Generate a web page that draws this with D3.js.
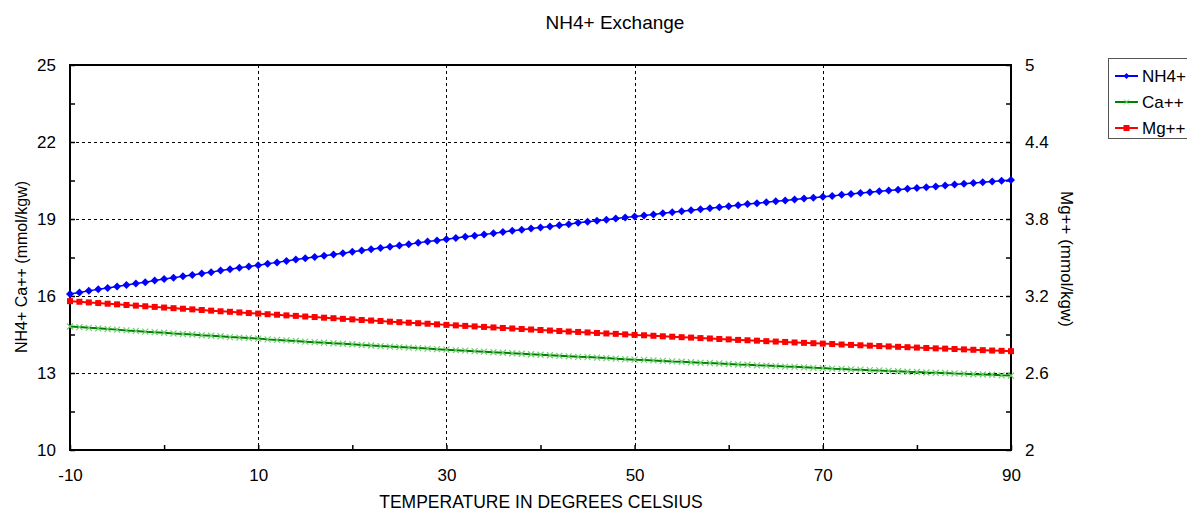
<!DOCTYPE html>
<html>
<head>
<meta charset="utf-8">
<script src="https://d3js.org/d3.v7.min.js"></script>
<style>
  body { margin: 0; background: #fff; }
  text { font-family: Arial, "Liberation Sans", sans-serif; }
</style>
</head>
<body>
<div id="chart"></div>
<script>

// temperatures (deg C) and the three series
var temps = [-10,-9,-8,-7,-6,-5,-4,-3,-2,-1,0,1,2,3,4,5,6,7,8,9,10,11,12,13,14,15,16,17,18,19,
  20,21,22,23,24,25,26,27,28,29,30,31,32,33,34,35,36,37,38,39,40,41,42,43,44,45,46,47,48,49,
  50,51,52,53,54,55,56,57,58,59,60,61,62,63,64,65,66,67,68,69,70,71,72,73,74,75,76,77,78,79,
  80,81,82,83,84,85,86,87,88,89,90];

var nh4 = [16.08,16.14,16.20,16.26,16.31,16.37,16.43,16.49,16.54,16.60,16.66,16.71,16.77,16.82,16.88,
  16.93,16.99,17.04,17.10,17.15,17.20,17.26,17.31,17.36,17.42,17.47,17.52,17.57,17.62,17.67,
  17.72,17.77,17.82,17.87,17.92,17.97,18.02,18.07,18.12,18.16,18.21,18.26,18.31,18.35,18.40,
  18.44,18.49,18.54,18.58,18.63,18.67,18.71,18.76,18.80,18.85,18.89,18.93,18.97,19.02,19.06,
  19.10,19.14,19.18,19.22,19.26,19.30,19.34,19.38,19.42,19.46,19.50,19.54,19.58,19.61,19.65,
  19.69,19.72,19.76,19.80,19.83,19.87,19.90,19.94,19.97,20.01,20.04,20.08,20.11,20.14,20.18,
  20.21,20.24,20.27,20.31,20.34,20.37,20.40,20.43,20.46,20.49,20.52];

var ca = [14.81,14.79,14.76,14.74,14.71,14.69,14.66,14.64,14.61,14.59,14.57,14.54,14.52,14.50,14.47,
  14.45,14.43,14.40,14.38,14.36,14.34,14.31,14.29,14.27,14.25,14.22,14.20,14.18,14.16,14.14,
  14.12,14.09,14.07,14.05,14.03,14.01,13.99,13.97,13.95,13.93,13.91,13.89,13.87,13.85,13.83,
  13.81,13.79,13.77,13.75,13.73,13.71,13.69,13.67,13.65,13.63,13.62,13.60,13.58,13.56,13.54,
  13.52,13.51,13.49,13.47,13.45,13.44,13.42,13.40,13.39,13.37,13.35,13.33,13.32,13.30,13.29,
  13.27,13.25,13.24,13.22,13.20,13.19,13.17,13.16,13.14,13.13,13.11,13.10,13.08,13.07,13.05,
  13.04,13.02,13.01,13.00,12.98,12.97,12.95,12.94,12.93,12.91,12.90];

var mg = [3.160,3.155,3.150,3.145,3.140,3.135,3.130,3.125,3.120,3.115,3.110,3.105,3.101,3.096,3.091,
  3.086,3.081,3.077,3.072,3.067,3.063,3.058,3.054,3.049,3.045,3.040,3.036,3.031,3.027,3.022,
  3.018,3.013,3.009,3.005,3.000,2.996,2.992,2.988,2.984,2.979,2.975,2.971,2.967,2.963,2.959,
  2.955,2.951,2.947,2.943,2.939,2.935,2.931,2.927,2.923,2.920,2.916,2.912,2.908,2.905,2.901,
  2.897,2.894,2.890,2.886,2.883,2.879,2.876,2.872,2.869,2.865,2.862,2.858,2.855,2.852,2.848,
  2.845,2.842,2.838,2.835,2.832,2.829,2.826,2.822,2.819,2.816,2.813,2.810,2.807,2.804,2.801,
  2.798,2.795,2.792,2.790,2.787,2.784,2.781,2.778,2.775,2.773,2.770];

// axis ticks
var xTicks = [-10,0,10,20,30,40,50,60,70,80,90];
var xLabels = [-10,10,30,50,70,90];
var yLeftTicks = [10,11.5,13,14.5,16,17.5,19,20.5,22,23.5,25];
var yLeftLabels = [10,13,16,19,22,25];
var yRightTicks = [2,2.3,2.6,2.9,3.2,3.5,3.8,4.1,4.4,4.7,5];
var yRightLabels = [2,2.6,3.2,3.8,4.4,5];

var seriesNames = ["NH4+", "Ca++", "Mg++"];

var margin = {top: 65, right: 176, bottom: 63, left: 70},
    width = 1187 - margin.left - margin.right,
    height = 513 - margin.top - margin.bottom;

var root = d3.select("#chart").append("svg")
    .attr("width", 1187)
    .attr("height", 513);

var svg = root.append("g")
    .attr("transform", "translate(" + margin.left + "," + margin.top + ")");

var x = d3.scaleLinear().domain([-10, 90]).range([0, width]);
var yL = d3.scaleLinear().domain([10, 25]).range([height, 0]);
var yR = d3.scaleLinear().domain([2, 5]).range([height, 0]);

// dashed grid
svg.append("g").selectAll("line")
    .data(xLabels.slice(1, -1))
  .enter().append("line")
    .attr("x1", function(d) { return Math.round(x(d)) + 0.5; })
    .attr("x2", function(d) { return Math.round(x(d)) + 0.5; })
    .attr("y1", 0).attr("y2", height)
    .attr("stroke", "#000")
    .attr("stroke-width", 1)
    .attr("stroke-dasharray", "3,3");

svg.append("g").selectAll("line")
    .data(yLeftLabels.slice(1, -1))
  .enter().append("line")
    .attr("x1", 0).attr("x2", width)
    .attr("y1", function(d) { return Math.round(yL(d)) + 0.5; })
    .attr("y2", function(d) { return Math.round(yL(d)) + 0.5; })
    .attr("stroke", "#000")
    .attr("stroke-width", 1)
    .attr("stroke-dasharray", "3,3");

// axes, ticks pointing into the plot
function fmt(labels) {
  return function(d) { return labels.indexOf(d) >= 0 ? String(d) : ""; };
}

var gx = svg.append("g")
    .attr("transform", "translate(0," + height + ")")
    .call(d3.axisBottom(x).tickValues(xTicks).tickFormat(fmt(xLabels))
      .tickSizeInner(-5).tickSizeOuter(0).tickPadding(19));

var gl = svg.append("g")
    .call(d3.axisLeft(yL).tickValues(yLeftTicks).tickFormat(fmt(yLeftLabels))
      .tickSizeInner(-5).tickSizeOuter(0).tickPadding(14));

var gr = svg.append("g")
    .attr("transform", "translate(" + width + ",0)")
    .call(d3.axisRight(yR).tickValues(yRightTicks).tickFormat(fmt(yRightLabels))
      .tickSizeInner(-5).tickSizeOuter(0).tickPadding(14));

[gx, gl, gr].forEach(function(g) {
  g.select(".domain").remove();
  g.selectAll(".tick line").attr("stroke", "#000").attr("stroke-width", 1.5);
  g.selectAll(".tick text")
    .style("font-family", "Arial, 'Liberation Sans', sans-serif")
    .style("font-size", "17px")
    .attr("fill", "#000");
});

// frame
svg.append("rect")
    .attr("x", 0).attr("y", 0)
    .attr("width", width).attr("height", height)
    .attr("fill", "none")
    .attr("stroke", "#000")
    .attr("stroke-width", 2);

var data = temps.map(function(t, i) {
  return {t: t, nh4: nh4[i], ca: ca[i], mg: mg[i]};
});

// Ca++ (green, light x markers)
svg.append("path")
    .datum(data)
    .attr("fill", "none")
    .attr("stroke", "#008000")
    .attr("stroke-width", 2)
    .attr("d", d3.line()
      .x(function(d) { return x(d.t); })
      .y(function(d) { return yL(d.ca); }));

svg.append("g").selectAll("path")
    .data(data)
  .enter().append("path")
    .attr("transform", function(d) { return "translate(" + x(d.t) + "," + yL(d.ca) + ")"; })
    .attr("d", "M-3,-3L3,3M-3,3L3,-3")
    .attr("stroke", "#6fcf6f")
    .attr("stroke-width", 1.2)
    .attr("fill", "none");

// Mg++ (red squares, right axis)
svg.append("path")
    .datum(data)
    .attr("fill", "none")
    .attr("stroke", "#ff0000")
    .attr("stroke-width", 2)
    .attr("d", d3.line()
      .x(function(d) { return x(d.t); })
      .y(function(d) { return yR(d.mg); }));

svg.append("g").selectAll("rect")
    .data(data)
  .enter().append("rect")
    .attr("x", function(d) { return x(d.t) - 3; })
    .attr("y", function(d) { return yR(d.mg) - 3; })
    .attr("width", 6).attr("height", 6)
    .attr("fill", "#ff0000");

// NH4+ (blue diamonds)
svg.append("path")
    .datum(data)
    .attr("fill", "none")
    .attr("stroke", "#0000ff")
    .attr("stroke-width", 1.5)
    .attr("d", d3.line()
      .x(function(d) { return x(d.t); })
      .y(function(d) { return yL(d.nh4); }));

svg.append("g").selectAll("path")
    .data(data)
  .enter().append("path")
    .attr("transform", function(d) { return "translate(" + x(d.t) + "," + yL(d.nh4) + ")"; })
    .attr("d", "M0,-4L4,0L0,4L-4,0Z")
    .attr("fill", "#0000ff");

// titles
root.append("text")
    .attr("x", 615).attr("y", 29)
    .attr("text-anchor", "middle")
    .style("font-size", "19px")
    .text("NH4+ Exchange");

root.append("text")
    .attr("x", 541).attr("y", 508)
    .attr("text-anchor", "middle")
    .style("font-size", "17.5px")
    .text("TEMPERATURE IN DEGREES CELSIUS");

root.append("text")
    .attr("transform", "translate(27,267) rotate(-90)")
    .attr("text-anchor", "middle")
    .style("font-size", "16px")
    .text("NH4+ Ca++ (mmol/kgw)");

root.append("text")
    .attr("transform", "translate(1061,259) rotate(90)")
    .attr("text-anchor", "middle")
    .style("font-size", "17px")
    .text("Mg++ (mmol/kgw)");

// legend
var legend = root.append("g").attr("transform", "translate(1108,58)");
legend.append("rect")
    .attr("x", 0.5).attr("y", 0.5)
    .attr("width", 90).attr("height", 80)
    .attr("fill", "#fff")
    .attr("stroke", "#555")
    .attr("stroke-width", 1);

var legendColors = ["#0000ff", "#008000", "#ff0000"];
seriesNames.forEach(function(name, i) {
  var ly = 18 + i * 26;
  legend.append("line")
    .attr("x1", 7).attr("x2", 30)
    .attr("y1", ly).attr("y2", ly)
    .attr("stroke", legendColors[i])
    .attr("stroke-width", 2);
  if (i === 0) {
    legend.append("path").attr("transform", "translate(18.5," + ly + ")")
      .attr("d", "M0,-3L3,0L0,3L-3,0Z").attr("fill", "#0000ff");
  } else if (i === 1) {
    legend.append("path").attr("transform", "translate(18.5," + ly + ")")
      .attr("d", "M-2.5,-2.5L2.5,2.5M-2.5,2.5L2.5,-2.5")
      .attr("stroke", "#6fcf6f").attr("fill", "none");
  } else {
    legend.append("rect").attr("x", 15.5).attr("y", ly - 3)
      .attr("width", 6).attr("height", 6).attr("fill", "#ff0000");
  }
  legend.append("text")
    .attr("x", 34).attr("y", ly + 6)
    .style("font-size", "17px")
    .text(name);
});

</script>
</body>
</html>
